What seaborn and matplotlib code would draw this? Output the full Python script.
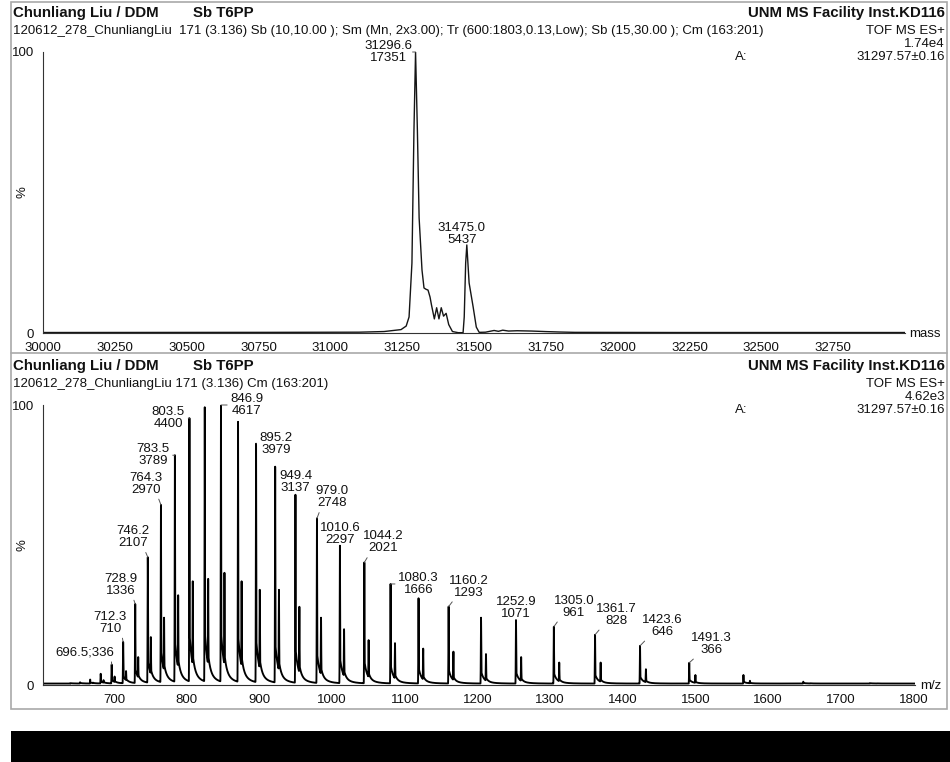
import numpy as np
import pandas as pd
import seaborn as sns
import matplotlib
matplotlib.use("Agg")
import matplotlib.pyplot as plt
from matplotlib.patches import Rectangle
from matplotlib.lines import Line2D
from matplotlib.ticker import FixedLocator, MultipleLocator

W, H = 950, 762

# ---------------- deconvoluted spectrum (mass, counts) ----------------
mass_da = [30000, 30400, 30800, 31100, 31187, 31246, 31264, 31274, 31284, 31291,
           31296.6, 31303, 31309, 31319, 31326, 31333, 31340, 31347, 31352, 31362,
           31370, 31378, 31386, 31394, 31403, 31412, 31425, 31445, 31462, 31466,
           31471, 31475.0, 31483, 31497, 31508, 31518, 31540, 31570, 31585, 31600,
           31620, 31650, 31700, 31750, 31800, 31850, 32200, 32600, 33000]
mass_counts = [30, 35, 40, 50, 90, 210, 430, 990, 4320, 12490,
               17351, 12490, 7110, 3890, 2780, 2700, 2650, 2220, 1735, 870,
               1560, 870, 1560, 1040, 1215, 520, 90, 20, 20, 990,
               4320, 5437, 3090, 1610, 365, 40, 50, 156, 104, 174,
               121, 139, 121, 87, 60, 40, 30, 30, 30]
mass_label_da = [31296.6, 31475.0]
mass_label_counts = [17351, 5437]
mass_base_counts = 17351

# ---------------- ESI charge-state envelope (m/z, counts) ----------------
mz_labelled = [696.5, 712.3, 728.9, 746.2, 764.3, 783.5, 803.5, 846.9, 895.2, 949.4,
               979.0, 1010.6, 1044.2, 1080.3, 1160.2, 1252.9, 1305.0, 1361.7, 1423.6, 1491.3]
counts_labelled = [336, 710, 1336, 2107, 2970, 3789, 4400, 4617, 3979, 3137,
                   2748, 2297, 2021, 1666, 1293, 1071, 961, 828, 646, 366]
mz_other = [639.7, 653.0, 666.9, 681.4, 824.6, 870.4, 921.5, 1118.8, 1204.8,
            1565.9, 1648.2, 1739.8]
counts_other = [30, 45, 90, 185, 4580, 4340, 3600, 1430, 1110, 165, 55, 28]
mz_adduct = [670.7, 685.3, 700.5, 716.3, 733.0, 750.4, 768.6, 788.0, 808.1, 829.3,
             851.7, 875.3, 900.3, 926.7, 954.8, 984.6, 1016.3, 1050.1, 1086.4, 1125.2,
             1166.8, 1211.6, 1260.0, 1312.4, 1369.4, 1431.7, 1499.8, 1574.8, 1657.6, 1749.7]
counts_adduct = [40, 80, 140, 230, 460, 790, 1110, 1480, 1710, 1750,
                 1850, 1710, 1570, 1570, 1290, 1110, 920, 740, 690, 600,
                 550, 510, 460, 370, 370, 260, 165, 70, 25, 14]
mz_baseline_counts = 24
mz_base_counts = 4617

# label placement: (dx, dy) of the label block centre from the peak top in pixels,
# and the kind of leader line joining them
mz_label_layout = {
    696.5: (-27, -12, "ul1"), 712.3: (-13, -19, "ul"), 728.9: (-14, -19, "ul"),
    746.2: (-15, -20, "ul"), 764.3: (-15, -21, "ul"), 783.5: (-22, 0, "left"),
    803.5: (-21, 0, "left"), 846.9: (26, 0, "right"), 895.2: (20, 0, "right"),
    949.4: (0, -13, "none"), 979.0: (15, -21, "ur"), 1010.6: (0, -12, "none"),
    1044.2: (19, -20, "ur"), 1080.3: (28, 0, "right"), 1160.2: (20, -20, "ur"),
    1252.9: (0, -12, "none"), 1305.0: (20, -20, "ur"), 1361.7: (21, -20, "ur"),
    1423.6: (22, -20, "ur"), 1491.3: (22, -19, "ur"),
}
mass_label_layout = {31296.6: (-27, 0, "left"), 31475.0: (-5, -11, "none")}

# ---------------- profile of the m/z spectrum ----------------
grid = np.arange(602.0, 1802.0, 0.05)
tails = np.full_like(grid, float(mz_baseline_counts))
spikes = np.zeros_like(grid)
for m, h in zip(mz_labelled + mz_other, counts_labelled + counts_other):
    d = grid - m
    dp = np.clip(d, 0, None)
    tails += np.where(d > 0, h * (0.13 * np.exp(-dp / 3.0) + 0.06 * np.exp(-dp / 10.0)), 0.0)
    spikes = np.maximum(spikes, h * np.exp(-0.5 * (d / 0.28) ** 2))
for m, h in zip(mz_adduct, counts_adduct):
    d = grid - m
    dp = np.clip(d, 0, None)
    tails += np.where(d > 0, 0.10 * h * np.exp(-dp / 3.0), 0.0)
    spikes = np.maximum(spikes, h * np.exp(-0.5 * (d / 0.32) ** 2))
mz_trace = np.maximum(tails, spikes)

mz_df = pd.DataFrame({"mz": grid, "pct": mz_trace / mz_base_counts * 100})
mass_df = pd.DataFrame({"mass": mass_da,
                        "pct": np.array(mass_counts) / mass_base_counts * 100})

# ---------------- figure ----------------
sns.set_style("white")
plt.rcParams["font.family"] = ["Liberation Sans", "DejaVu Sans"]
plt.rcParams["axes.linewidth"] = 0.8

fig = plt.figure(figsize=(W / 100, H / 100), dpi=100)
fig.patch.set_facecolor("white")


def fx(x):
    return x / W


def fy(y):
    return 1 - y / H


def add_axes(left, right, top, bottom):
    return fig.add_axes([fx(left), fy(bottom), (right - left) / W, (bottom - top) / H])


ax_top = add_axes(43, 905, 52, 333)
ax_bot = add_axes(43, 915, 405, 685)

TXT = "#111111"
FS = 9.5
sns.lineplot(data=mass_df, x="mass", y="pct", ax=ax_top, color="#151515", lw=1.0,
             estimator=None, sort=False)
sns.lineplot(data=mz_df, x="mz", y="pct", ax=ax_bot, color="#000000", lw=1.35,
             estimator=None, sort=False)

for ax in (ax_top, ax_bot):
    ax.set_ylim(0, 100)
    ax.set_xlabel("")
    ax.set_ylabel("")
    ax.patch.set_alpha(0)
    for s in ("top", "right"):
        ax.spines[s].set_visible(False)
    for s in ("left", "bottom"):
        ax.spines[s].set_color("#333333")
    ax.yaxis.set_major_locator(FixedLocator([0, 100]))
    ax.yaxis.set_minor_locator(MultipleLocator(10))
    ax.tick_params(which="major", direction="out", length=5, width=0.8,
                   color="#333333", labelsize=FS, labelcolor=TXT, pad=1.5)
    ax.tick_params(which="minor", direction="out", length=3, width=0.7,
                   color="#555555")

ax_top.set_xlim(30000, 33000)
ax_top.xaxis.set_major_locator(FixedLocator(list(range(30000, 33000, 250))))
ax_top.xaxis.set_minor_locator(MultipleLocator(50))
ax_bot.set_xlim(602, 1802)
ax_bot.xaxis.set_major_locator(FixedLocator(list(range(700, 1801, 100))))
ax_bot.xaxis.set_minor_locator(MultipleLocator(20))

# ---------------- peak labels ----------------
RELPOS = {"ul": (0.85, 0.0), "ul1": (0.95, 0.0), "ur": (0.15, 0.0),
          "left": (1.0, 0.5), "right": (0.0, 0.5)}


def label_peaks(ax, xs, cs, base, layout, single=()):
    for x, c in zip(xs, cs):
        dx, dy, kind = layout[x]
        txt = f"{x:.1f};{c}" if x in single else f"{x:.1f}\n{c}"
        kw = {}
        if kind != "none":
            kw["arrowprops"] = dict(arrowstyle="-", color="#555555", lw=0.7,
                                    shrinkA=0, shrinkB=0, relpos=RELPOS[kind])
        ax.annotate(txt, xy=(x, c / base * 100), xytext=(dx * 0.72, -dy * 0.72),
                    textcoords="offset points", ha="center", va="center",
                    fontsize=FS, color=TXT, linespacing=1.0,
                    annotation_clip=False, **kw)


label_peaks(ax_top, mass_label_da, mass_label_counts, mass_base_counts, mass_label_layout)
label_peaks(ax_bot, mz_labelled, counts_labelled, mz_base_counts, mz_label_layout,
            single=(696.5,))

# ---------------- header texts ----------------
def header(y0, line2, scale):
    fig.text(fx(13), fy(y0), "Chunliang Liu / DDM", fontsize=10.8, fontweight="bold",
             va="center", ha="left", color=TXT)
    fig.text(fx(193), fy(y0), "Sb T6PP", fontsize=10.8, fontweight="bold",
             va="center", ha="left", color=TXT)
    fig.text(fx(945), fy(y0), "UNM MS Facility Inst.KD116", fontsize=10.8,
             fontweight="bold", va="center", ha="right", color=TXT)
    fig.text(fx(13), fy(y0 + 18), line2, fontsize=FS, va="center", ha="left", color=TXT)
    fig.text(fx(945), fy(y0 + 18), "TOF MS ES+", fontsize=FS, va="center", ha="right",
             color=TXT)
    fig.text(fx(945), fy(y0 + 31), scale, fontsize=FS, va="center", ha="right", color=TXT)
    fig.text(fx(735), fy(y0 + 44), "A:", fontsize=FS, va="center", ha="left", color=TXT)
    fig.text(fx(945), fy(y0 + 44), "31297.57\u00b10.16", fontsize=FS, va="center",
             ha="right", color=TXT)


header(13, "120612_278_ChunliangLiu  171 (3.136) Sb (10,10.00 ); Sm (Mn, 2x3.00); "
           "Tr (600:1803,0.13,Low); Sb (15,30.00 ); Cm (163:201)", "1.74e4")
header(366, "120612_278_ChunliangLiu 171 (3.136) Cm (163:201)", "4.62e3")

fig.text(fx(22), fy(192), "%", rotation=90, fontsize=FS, va="center", ha="center", color=TXT)
fig.text(fx(22), fy(545), "%", rotation=90, fontsize=FS, va="center", ha="center", color=TXT)
fig.text(fx(909), fy(334), "mass", fontsize=FS, va="center", ha="left", color=TXT)
fig.text(fx(920), fy(686), "m/z", fontsize=FS, va="center", ha="left", color=TXT)

# ---------------- frame and bottom band ----------------
frame = "#a9a9a9"
fig.add_artist(Rectangle((fx(11), fy(709)), (947 - 11) / W, (709 - 2) / H,
                         transform=fig.transFigure, fill=False, edgecolor=frame, lw=1.2))
fig.add_artist(Line2D([fx(11), fx(947)], [fy(353), fy(353)], transform=fig.transFigure,
                      color=frame, lw=1.2))
fig.add_artist(Rectangle((fx(11), 0), (W - 11) / W, (H - 731) / H,
                         transform=fig.transFigure, facecolor="black", edgecolor="none"))

fig.savefig("out.png", dpi=100, facecolor="white")
